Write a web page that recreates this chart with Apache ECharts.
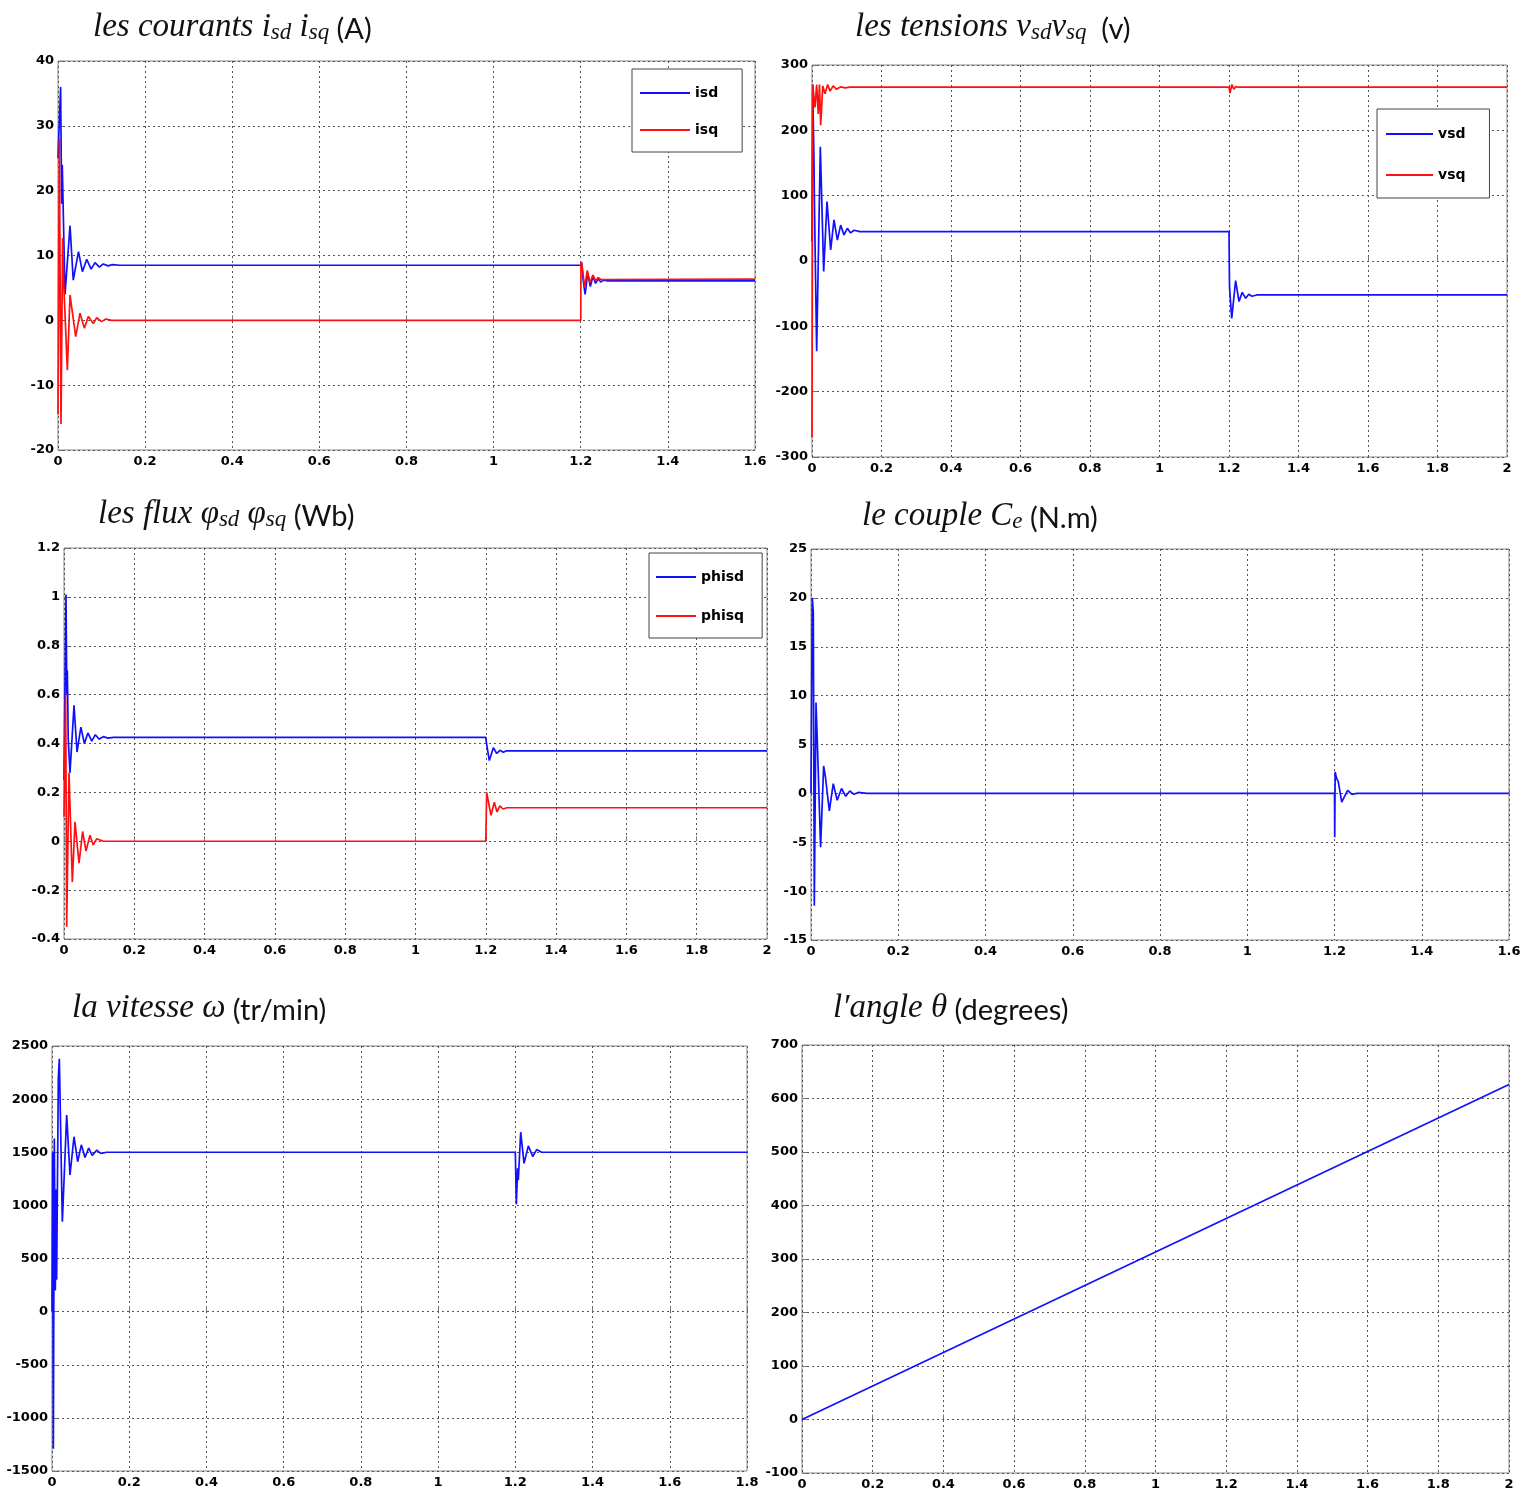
<!DOCTYPE html>
<html>
<head>
<meta charset="utf-8">
<script src="https://cdn.jsdelivr.net/npm/echarts@6/dist/echarts.min.js"></script>
<style>
  html, body { margin: 0; padding: 0; background: #fff; }
  #chart { width: 1525px; height: 1495px; }
</style>
</head>
<body>
<div id="chart"></div>
<script>
// currents (A)
const isdPts = [[0, 25], [0.001, 27], [0.006, 36], [0.0083, 18], [0.0098, 24], [0.0161, 4], [0.0276, 14.6], [0.035, 6.2], [0.047, 10.6], [0.056, 7.5], [0.066, 9.4], [0.076, 7.9], [0.085, 8.9], [0.095, 8.2], [0.104, 8.7], [0.115, 8.4], [0.125, 8.6], [0.142, 8.5], [1.2, 8.5], [1.202, 9.0], [1.205, 6.5], [1.21, 4.0], [1.216, 7.3], [1.222, 5.2], [1.228, 6.8], [1.234, 5.7], [1.24, 6.4], [1.246, 5.9], [1.252, 6.2], [1.26, 6.1], [1.6, 6.1]];
const isqPts = [[0, -14.5], [0.003, 28], [0.0069, -16], [0.0107, 12.7], [0.013, 6], [0.0214, -7.7], [0.0276, 3.9], [0.0406, -2.5], [0.0505, 1.1], [0.0605, -1.2], [0.0697, 0.6], [0.081, -0.5], [0.0888, 0.4], [0.1, -0.2], [0.11, 0.2], [0.123, 0], [1.2, 0], [1.2005, 9], [1.203, 8.5], [1.209, 5.0], [1.215, 7.7], [1.221, 5.8], [1.228, 7.0], [1.234, 6.1], [1.24, 6.6], [1.246, 6.3], [1.6, 6.35]];
// voltages (v)
const vsdPts = [[0, 30], [0.002, 270], [0.0058, 150], [0.0067, 100], [0.0134, -138], [0.024, 175], [0.0336, -16], [0.0432, 91], [0.0537, 17], [0.0633, 63], [0.073, 32], [0.0825, 55], [0.092, 40], [0.1017, 50], [0.111, 43], [0.121, 47], [0.138, 45], [1.2, 45], [1.2015, -40], [1.2078, -88], [1.219, -30], [1.2288, -62], [1.238, -48], [1.248, -57], [1.257, -51], [1.266, -54], [1.28, -52], [2, -52]];
const vsqPts = [[0, -270], [0.002, 270], [0.0086, 235], [0.0134, 270], [0.018, 225], [0.0215, 270], [0.025, 208], [0.031, 268], [0.0374, 256], [0.045, 270], [0.052, 260], [0.061, 268], [0.07, 263], [0.082, 266.5], [0.095, 265], [0.11, 266], [1.2, 266], [1.203, 257], [1.208, 270], [1.214, 263], [1.22, 267], [1.228, 266], [2, 266]];
// flux (Wb)
const phisdPts = [[0, 0.25], [0.0057, 1.01], [0.008, 0.6], [0.0095, 0.7], [0.012, 0.42], [0.017, 0.28], [0.0285, 0.556], [0.037, 0.365], [0.048, 0.467], [0.058, 0.4], [0.068, 0.443], [0.079, 0.41], [0.089, 0.436], [0.1, 0.418], [0.112, 0.428], [0.125, 0.422], [0.14, 0.425], [1.2, 0.425], [1.201, 0.41], [1.21, 0.33], [1.2215, 0.383], [1.231, 0.359], [1.24, 0.372], [1.25, 0.364], [1.259, 0.37], [2, 0.37]];
const phisqPts = [[0, 0.1], [0.0047, 0.6], [0.0076, -0.35], [0.0142, 0.28], [0.0237, -0.167], [0.0313, 0.079], [0.0427, -0.09], [0.053, 0.04], [0.0626, -0.04], [0.074, 0.025], [0.083, -0.015], [0.093, 0.01], [0.112, 0], [1.2, 0], [1.2025, 0.2], [1.2148, 0.106], [1.2242, 0.16], [1.232, 0.12], [1.24, 0.145], [1.249, 0.132], [1.26, 0.137], [2, 0.137]];
// torque (N.m)
const cePts = [[0, 0], [0.003, 20], [0.0053, 18.5], [0.0076, -11.5], [0.0115, 9.3], [0.014, 6], [0.022, -5.5], [0.029, 2.8], [0.033, 1.7], [0.035, 1.9], [0.042, -1.8], [0.051, 1.0], [0.06, -0.7], [0.07, 0.5], [0.0795, -0.3], [0.089, 0.25], [0.0986, -0.1], [0.108, 0.1], [0.128, 0], [1.2, 0], [1.2005, -4.5], [1.2015, 2.2], [1.205, 1.5], [1.2087, 1.2], [1.2165, -0.9], [1.23, 0.3], [1.24, -0.1], [1.251, 0], [1.6, 0]];
// speed (tr/min)
const speedPts = [[0, 0], [0.0017, 1500], [0.0035, -1290], [0.006, 1630], [0.0086, 200], [0.0112, 1150], [0.012, 300], [0.0164, 2200], [0.019, 2380], [0.0268, 846], [0.038, 1850], [0.0466, 1286], [0.057, 1646], [0.0665, 1411], [0.076, 1570], [0.0855, 1450], [0.095, 1540], [0.104, 1470], [0.116, 1520], [0.126, 1490], [0.142, 1500], [1.2, 1500], [1.2026, 1010], [1.206, 1350], [1.2077, 1238], [1.2139, 1690], [1.2225, 1395], [1.2337, 1560], [1.245, 1460], [1.2553, 1525], [1.268, 1500], [1.8, 1500]];
// angle (degrees)
const thetaPts = [[0, 0], [2, 626]];

const BLUE = '#1010ff';
const RED = '#ff1010';

const chart = echarts.init(document.getElementById('chart'));

const grids = [
  { left: 58, top: 61, width: 697, height: 389 },
  { left: 812, top: 65, width: 695, height: 392 },
  { left: 64, top: 548, width: 703, height: 391 },
  { left: 811, top: 549, width: 698, height: 391 },
  { left: 52, top: 1046, width: 695, height: 425 },
  { left: 802, top: 1045, width: 707, height: 428 }
];

const xRanges = [[0, 1.6], [0, 2], [0, 2], [0, 1.6], [0, 1.8], [0, 2]];
const yRanges = [[-20, 40, 10], [-300, 300, 100], [-0.4, 1.2, 0.2], [-15, 25, 5], [-1500, 2500, 500], [-100, 700, 100]];

const fmt = v => String(Math.round(v * 1e6) / 1e6);
const tickLabel = { fontFamily: 'DejaVu Sans', fontWeight: 'bold', fontSize: 13, color: '#000', formatter: fmt };
const dotted = { show: true, lineStyle: { color: '#555', type: [2, 3], width: 1 } };

const xAxes = xRanges.map((r, i) => ({
  type: 'value', gridIndex: i, min: r[0], max: r[1], interval: 0.2,
  axisLine: { show: false },
  axisTick: { show: true, inside: true, length: 5, lineStyle: { color: '#777' } },
  axisLabel: Object.assign({ margin: 5 }, tickLabel),
  splitLine: dotted
}));
const yAxes = yRanges.map((r, i) => ({
  type: 'value', gridIndex: i, min: r[0], max: r[1], interval: r[2],
  axisLine: { show: false },
  axisTick: { show: true, inside: true, length: 5, lineStyle: { color: '#777' } },
  axisLabel: Object.assign({ margin: 4 }, tickLabel),
  splitLine: dotted
}));

function line(name, data, idx, color) {
  return {
    name: name, type: 'line', xAxisIndex: idx, yAxisIndex: idx, data: data,
    symbol: 'none', lineStyle: { color: color, width: 1.7 }, itemStyle: { color: color }
  };
}

const rich = {
  i: { fontFamily: 'Liberation Serif', fontStyle: 'italic', fontWeight: 'normal', fontSize: 33, color: '#111', verticalAlign: 'bottom', lineHeight: 46 },
  s: { fontFamily: 'Liberation Serif', fontStyle: 'italic', fontWeight: 'normal', fontSize: 23, color: '#111', verticalAlign: 'bottom', lineHeight: 22 },
  n: { fontFamily: 'Lato', fontWeight: 'normal', fontSize: 29, color: '#111', verticalAlign: 'bottom', lineHeight: 46 }
};
function title(text, left, top) {
  return { text: text, left: left, top: top, padding: 0, textStyle: { fontWeight: 'normal', rich: rich } };
}

function legend(names, left, top, pad, gap, w) {
  return {
    data: names, orient: 'vertical', left: left, top: top,
    icon: 'rect', itemWidth: w, itemHeight: 2,
    padding: pad, itemGap: gap,
    backgroundColor: '#fff', borderColor: '#444', borderWidth: 1,
    textStyle: { fontFamily: 'DejaVu Sans', fontWeight: 'bold', fontSize: 14, color: '#000' }
  };
}

chart.setOption({
  animation: false,
  backgroundColor: '#fff',
  title: [
    title('{i|les courants i}{s|sd}{i| i}{s|sq}{n| (A)}', 93, -2),
    title('{i|les tensions v}{s|sd}{i|v}{s|sq}{n|  (v)}', 855, -2),
    title('{i|les flux φ}{s|sd}{i| φ}{s|sq}{n| (Wb)}', 98, 485),
    title('{i|le couple C}{s|e}{n| (N.m)}', 862, 487),
    title('{i|la vitesse ω}{n| (tr/min)}', 72, 979),
    title('{i|l′angle θ}{n| (degrees)}', 833, 979)
  ],
  legend: [
    legend(['isd', 'isq'], 632, 69, [17, 24, 15, 8], 23, 50),
    legend(['vsd', 'vsq'], 1377, 109, [18, 24, 16, 9], 27, 47),
    legend(['phisd', 'phisq'], 649, 553, [17, 18, 15, 7], 25, 40)
  ],
  grid: grids.map(g => Object.assign({ show: true, borderColor: '#888', borderWidth: 1, backgroundColor: '#fff' }, g)),
  xAxis: xAxes,
  yAxis: yAxes,
  series: [
    line('isd', isdPts, 0, BLUE),
    line('isq', isqPts, 0, RED),
    line('vsd', vsdPts, 1, BLUE),
    line('vsq', vsqPts, 1, RED),
    line('phisd', phisdPts, 2, BLUE),
    line('phisq', phisqPts, 2, RED),
    line('Ce', cePts, 3, BLUE),
    line('w', speedPts, 4, BLUE),
    line('theta', thetaPts, 5, BLUE)
  ]
});
</script>
</body>
</html>
